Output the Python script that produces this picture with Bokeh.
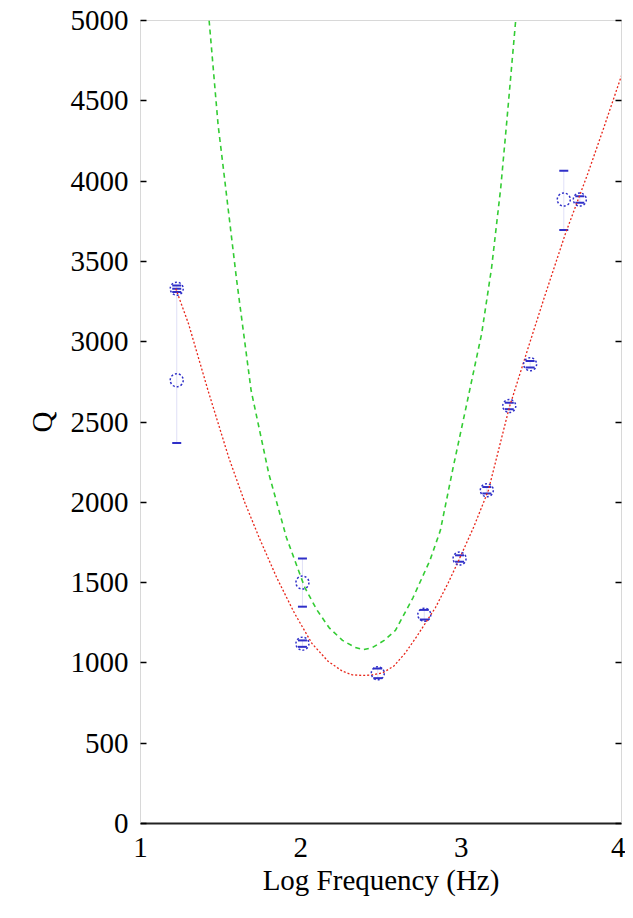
from bokeh.plotting import figure
from bokeh.models import (ColumnDataSource, LinearAxis, FixedTicker, Range1d,
                          Whisker, TeeHead, CustomJSTickFormatter)
from bokeh.embed import file_html
from bokeh.resources import INLINE

# Measured points (Log frequency vs Q) with error bounds
pt_x = [1.226, 1.226, 2.01, 2.01, 2.48, 2.77, 2.99, 3.16, 3.30, 3.43, 3.64, 3.74]
pt_q = [3330, 2760, 1500, 1120, 935, 1300, 1650, 2075, 2600, 2860, 3885, 3885]
pt_lo = [3310, 2370, 1350, 1100, 905, 1270, 1630, 2055, 2580, 2840, 3695, 3865]
pt_hi = [3350, 3330, 1650, 1140, 965, 1330, 1670, 2095, 2620, 2880, 4065, 3905]

# Red dotted fit curve
red_x = [1.22, 1.30, 1.42, 1.55, 1.65, 1.74, 1.85, 1.96, 2.07, 2.17, 2.26, 2.32,
         2.38, 2.44, 2.51, 2.58, 2.65, 2.72, 2.84, 2.92, 2.99, 3.08, 3.17, 3.30,
         3.43, 3.52, 3.65, 3.79, 3.89, 4.0]
red_q = [3330, 3110, 2700, 2280, 2000, 1780, 1530, 1310, 1120, 1010, 948, 926,
         922, 924, 938, 980, 1060, 1160, 1345, 1500, 1650, 1850, 2075, 2590,
         3000, 3280, 3672, 4047, 4334, 4657]

# Green dashed curve
grn_x = [1.428, 1.484, 1.516, 1.60, 1.69, 1.80, 1.91, 2.025, 2.10, 2.176, 2.26,
         2.34, 2.39, 2.447, 2.52, 2.59, 2.70, 2.805, 2.87, 2.95, 3.03, 3.128,
         3.19, 3.247, 3.285, 3.34]
grn_q = [5000, 4350, 4085, 3381, 2696, 2179, 1781, 1469, 1330, 1220, 1140,
         1096, 1082, 1096, 1140, 1202, 1407, 1638, 1824, 2217, 2590, 3051,
         3462, 3960, 4377, 5000]

x_ticks = [1, 2, 3, 4]
y_ticks = [0, 500, 1000, 1500, 2000, 2500, 3000, 3500, 4000, 4500, 5000]

FONT = "Liberation Serif"
FS = "29px"
BLUE = "#2f2fc8"

p = figure(width=625, height=905, output_backend="svg", toolbar_location=None,
           x_range=Range1d(1, 4), y_range=Range1d(0, 5000),
           min_border_left=140, min_border_top=20, min_border_right=4,
           min_border_bottom=82)
p.outline_line_color = "#d8d8d8"
p.grid.visible = False
p.background_fill_color = "white"
p.border_fill_color = "white"

# curves
p.line(grn_x, grn_q, line_color="#33cc33", line_width=1.6, line_dash="5 4")
p.line(red_x, red_q, line_color="#e8261a", line_width=1.3, line_dash="2 2")

# error bars and points
src = ColumnDataSource(dict(x=pt_x, q=pt_q, lo=pt_lo, hi=pt_hi))
wh = Whisker(base="x", upper="hi", lower="lo", source=src,
             line_color=BLUE, line_alpha=0.15, line_width=1,
             upper_head=TeeHead(size=9, line_color=BLUE, line_width=2),
             lower_head=TeeHead(size=9, line_color=BLUE, line_width=2))
p.add_layout(wh)
p.scatter("x", "q", source=src, marker="circle", size=13, fill_color=None,
          line_color=BLUE, line_width=1.5, line_dash="2 2")

# axes
xa = p.xaxis[0]
xa.ticker = FixedTicker(ticks=x_ticks)
xa.axis_label = "Log Frequency (Hz)"
xa.axis_line_color = "#222222"
xa.axis_line_width = 2
xa.major_tick_line_color = None
xa.minor_tick_line_color = None
xa.major_label_standoff = 8
xa.axis_label_standoff = 4

ya = p.yaxis[0]
ya.ticker = FixedTicker(ticks=y_ticks)
ya.axis_label = "Q"
ya.axis_line_color = "#d8d8d8"
ya.major_tick_in = 6
ya.major_tick_out = 0
ya.major_tick_line_color = "black"
ya.major_tick_line_width = 1.5
ya.minor_tick_line_color = None
ya.major_label_standoff = 12
ya.axis_label_standoff = 10

for ax in (xa, ya):
    ax.major_label_text_font = FONT
    ax.major_label_text_font_size = FS
    ax.major_label_text_color = "black"
    ax.axis_label_text_font = FONT
    ax.axis_label_text_font_size = FS
    ax.axis_label_text_font_style = "normal"
    ax.axis_label_text_color = "black"

ra = LinearAxis(ticker=FixedTicker(ticks=y_ticks),
                formatter=CustomJSTickFormatter(code="return ''"))
ra.axis_line_color = "#d8d8d8"
ra.major_tick_in = 6
ra.major_tick_out = 0
ra.major_tick_line_color = "black"
ra.major_tick_line_width = 1.5
ra.minor_tick_line_color = None
ra.major_label_text_font_size = "1px"
ra.major_label_standoff = 0
p.add_layout(ra, "right")

open("out.html", "w").write(file_html(p, INLINE))
